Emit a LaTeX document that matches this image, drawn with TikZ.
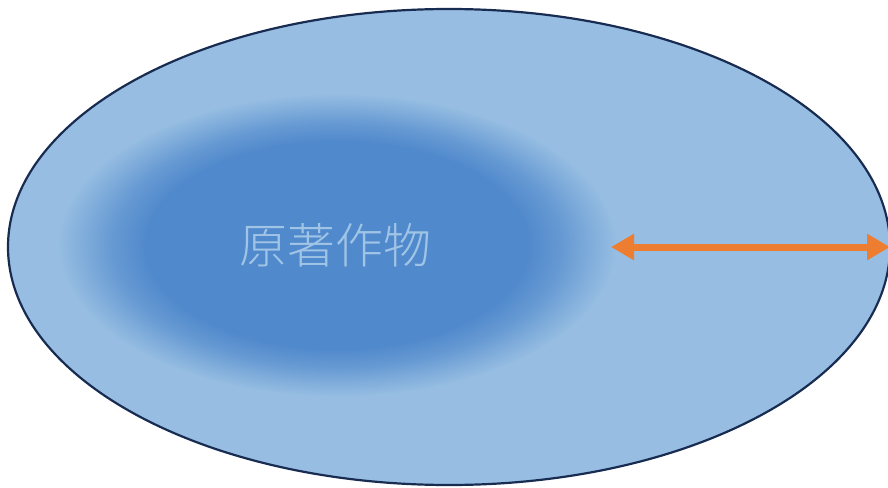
\documentclass[tikz,border=0pt]{standalone}
\usepackage{fontspec}
\newfontfamily\cjk[UprightFont={* Light}]{Noto Sans CJK SC}
\usetikzlibrary{arrows.meta}
\definecolor{outerblue}{RGB}{151,190,226}
\definecolor{innerblue}{RGB}{80,137,204}
\definecolor{edgeblue}{RGB}{24,44,82}
\definecolor{textblue}{RGB}{160,196,230}
\definecolor{arroworange}{RGB}{237,125,49}
\colorlet{midblue}{innerblue!70!outerblue}
\pgfdeclareradialshading{blob}{\pgfpointorigin}{color(0bp)=(innerblue); color(17bp)=(innerblue); color(20bp)=(midblue); color(25bp)=(outerblue); color(50bp)=(outerblue)}
\tikzset{
  bigoval/.style={draw=edgeblue, line width=2.2pt, fill=outerblue},
  lbl/.style={text=textblue, font=\cjk\fontsize{48}{52}\selectfont, inner sep=0pt},
  dblarrow/.style={draw=arroworange, line width=7pt, {Triangle[length=23pt,width=25pt]}-{Triangle[length=23pt,width=25pt]}}
}
\begin{document}
\begin{tikzpicture}[x=1pt,y=-1pt]
\useasboundingbox (0,0) rectangle (888,487);
\clip (0,0) rectangle (888,487);
\path[bigoval] (449,247) ellipse [x radius=441, y radius=238];
\shade[shading=blob] (337,245) ellipse [x radius=280, y radius=152];
\node[lbl] (t) at (335,245) {原著作物};
\coordinate (a) at (611,247);
\coordinate (b) at (890,247);
\draw[dblarrow] (a) -- (b);
\end{tikzpicture}
\end{document}
